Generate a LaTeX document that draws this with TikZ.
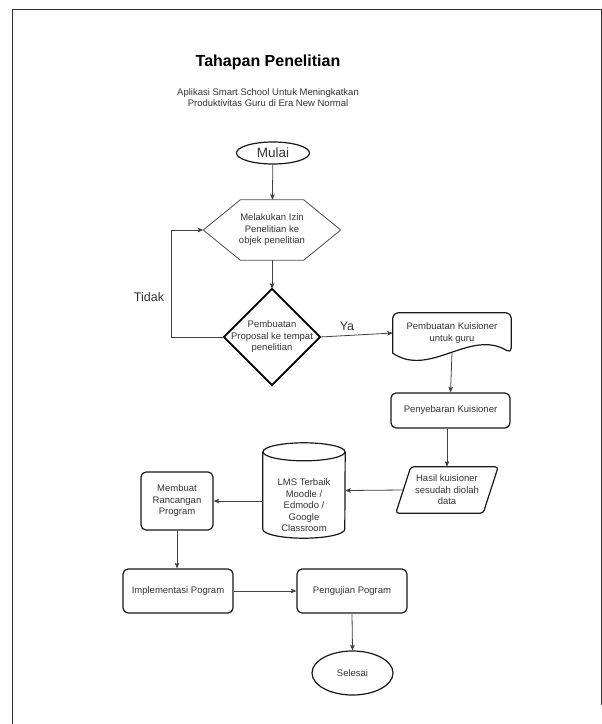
\documentclass[tikz,border=0pt]{standalone}
\usepackage{fontspec}
\setmainfont{Liberation Sans}
\usetikzlibrary{shapes.geometric,arrows.meta,calc}

\begin{document}
\begin{tikzpicture}[x=1pt, y=-1pt,
    txt/.style={font=\fontsize{9.5}{11.5}\selectfont, text=black!80, align=center, inner sep=0pt},
    blok/.style={txt, draw=black!90, line width=1.2pt, rounded corners=5pt},
    oval/.style={txt, ellipse, draw=black!90, line width=1.2pt},
    garis/.style={draw=black!90, line width=1.2pt},
    conn/.style={draw=black!75, line width=0.8pt, -{Stealth[length=5.5pt, width=4.5pt, inset=1pt]}}
  ]
    \useasboundingbox (0,0) rectangle (602,724);
    % Frame
    \draw[black!80, line width=0.9pt] (12.7,724) -- (12.7,9.5) -- (601.3,9.5) -- (601.3,705);
    % Judul
    \node[font=\fontsize{16}{19}\selectfont\bfseries] (judul) at (268,62) {Tahapan Penelitian};
    \node[txt, font=\fontsize{9.5}{11}\selectfont] (subjudul) at (268,97.5) {Aplikasi Smart School Untuk Meningkatkan\\Produktivitas Guru di Era New Normal};
    % Nodes
    \node[oval, font=\fontsize{13.5}{15}\selectfont, minimum width=73, minimum height=22] (mulai) at (273,153) {Mulai};
    \node[txt, minimum width=137, minimum height=60] (izin) at (272,230) {Melakukan Izin\\Penelitian ke\\objek penelitian};
    \node[txt, minimum width=96, minimum height=96] (usul) at (272,337) {Pembuatan\\Proposal ke tempat\\penelitian};
    \node[txt, minimum width=118, minimum height=40] (kuis) at (452,333) {Pembuatan Kuisioner\\untuk guru};
    \node[blok, minimum width=119, minimum height=35] (sebar) at (450.5,410.5) {Penyebaran Kuisioner};
    \node[txt, minimum width=102, minimum height=46] (hasil) at (447,490) {Hasil kuisioner\\sesudah diolah\\data};
    \node[txt, minimum width=82, minimum height=95] (lms) at (304,490.5) {};
    \node[txt] (lmslabel) at (304,505.5) {LMS Terbaik\\Moodle /\\Edmodo /\\Google\\Classroom};
    \node[blok, minimum width=72, minimum height=58] (rancang) at (177,501) {Membuat\\Rancangan\\Program};
    \node[blok, minimum width=110, minimum height=44] (impl) at (178,591) {Implementasi Pogram};
    \node[blok, minimum width=110, minimum height=44] (uji) at (352,591) {Pengujian Pogram};
    \node[oval, minimum width=81, minimum height=44] (selesai) at (352.5,673) {Selesai};
    % Shapes
    \draw[black!70, line width=0.8pt] (izin.west) -- ([xshift=37pt]izin.north west) -- ([xshift=-37pt]izin.north east)
        -- (izin.east) -- ([xshift=-37pt]izin.south east) -- ([xshift=37pt]izin.south west) -- cycle;
    \draw[black, line width=1.8pt, line join=miter] (usul.north) -- (usul.east) -- (usul.south) -- (usul.west) -- cycle;
    \draw[garis] (kuis.south west) [rounded corners=5pt] -- (kuis.north west) -- (kuis.north east) -- (kuis.south east)
        [sharp corners] .. controls ($(kuis.south east)+(-41,-25)$) and ($(kuis.south west)+(37,25)$) .. (kuis.south west) -- cycle;
    \draw[garis, rounded corners=3pt] ([xshift=15pt]hasil.north west) -- (hasil.north east)
        -- ([xshift=-15pt]hasil.south east) -- (hasil.south west) -- cycle;
    \draw[garis] ($(lms.north west)+(0,9)$) -- ($(lms.south west)+(0,-9)$) arc[start angle=180, end angle=0, x radius=41, y radius=9]
        -- ($(lms.north east)+(0,9)$);
    \draw[garis] ($(lms.north)+(0,9)$) ellipse[x radius=41, y radius=9];
    % Labels
    \node[txt, font=\fontsize{12.5}{14}\selectfont] (tidak) at (149,297) {Tidak};
    \node[txt, font=\fontsize{12.5}{14}\selectfont] (ya) at (347,326) {Ya};
    % Arrows
    \coordinate (balik) at (171,337);
    \draw[conn] (mulai) -- (izin);
    \draw[conn] (izin) -- (usul);
    \draw[conn] (usul.west) -- (balik) |- (izin.west);
    \draw[conn] (usul.east) -- (kuis.west);
    \draw[conn] (kuis.south) -- (sebar.north);
    \draw[conn] (sebar.south -| hasil.north) -- (hasil.north);
    \draw[conn] ($(hasil.west)+(7.5,0)$) -- (lms.east);
    \draw[conn] (lms.west |- rancang.east) -- (rancang.east);
    \draw[conn] (rancang.south) -- (rancang.south |- impl.north);
    \draw[conn] (impl.east) -- (uji.west);
    \draw[conn] (uji.south) -- (selesai.north);
\end{tikzpicture}
\end{document}
